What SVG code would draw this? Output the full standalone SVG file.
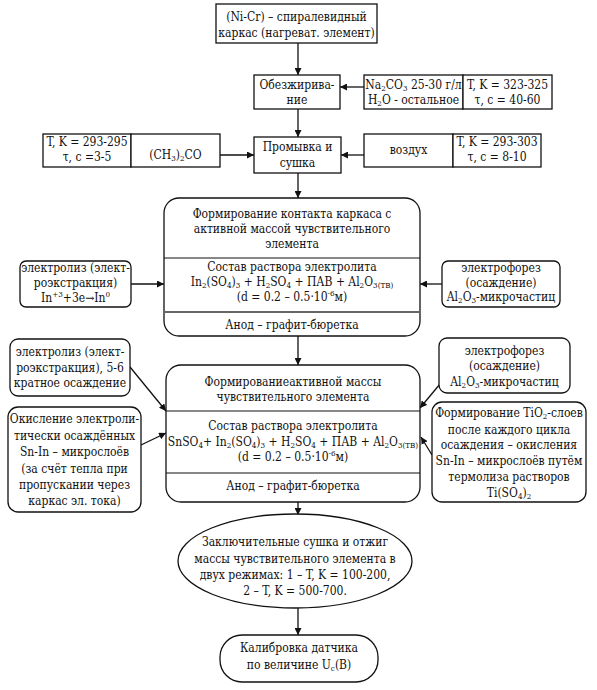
<svg xmlns="http://www.w3.org/2000/svg" width="597" height="690" viewBox="0 0 597 690">
<defs>
<style>
text{font-family:'DejaVu Serif Condensed','DejaVu Serif',serif;font-stretch:condensed}
.t{font-size:12px;text-anchor:middle;fill:#111}
.b{fill:#fff;stroke:#111;stroke-width:1.3}
.d{stroke:#111;stroke-width:1.2}
.c{stroke:#111;stroke-width:1.3;fill:none;marker-end:url(#a)}
.s{font-size:8px}
</style>
<marker id="a" viewBox="0 0 10 10" refX="10" refY="5" markerWidth="7" markerHeight="7" orient="auto" markerUnits="userSpaceOnUse">
<path d="M0,0 L10,5 L0,10 z" fill="#111"/>
</marker>
</defs>
<rect width="597" height="690" fill="#fff"/>

<g id="connectors">
<line class="c" x1="298" y1="43" x2="298" y2="75"/>
<line class="c" x1="364" y1="87" x2="340" y2="87"/>
<line class="c" x1="298" y1="109" x2="298" y2="137"/>
<line class="c" x1="220" y1="155" x2="254" y2="155"/>
<line class="c" x1="364" y1="155" x2="341" y2="155"/>
<line class="c" x1="298" y1="173" x2="298" y2="198"/>
<line class="c" x1="131" y1="284" x2="164" y2="284"/>
<line class="c" x1="442" y1="284" x2="420" y2="284"/>
<line class="c" x1="298" y1="336" x2="298" y2="365"/>
<line class="c" x1="130" y1="367" x2="166" y2="411"/>
<line class="c" x1="141" y1="445" x2="166" y2="433"/>
<line class="c" x1="440" y1="384" x2="420" y2="408"/>
<line class="c" x1="432" y1="455" x2="421" y2="437"/>
<line class="c" x1="298" y1="502" x2="298" y2="515"/>
<line class="c" x1="298" y1="608" x2="298" y2="635"/>
</g>

<g id="frame">
<rect class="b" x="216" y="4" width="161" height="39"/>
<text class="t" x="296.5" y="21">(Ni-Cr) – спиралевидный</text>
<text class="t" x="296.5" y="37">каркас (нагреват. элемент)</text>
</g>

<g id="degrease">
<rect class="b" x="254" y="75" width="86" height="34"/>
<text class="t" x="297" y="89">Обезжирива-</text>
<text class="t" x="297" y="104">ние</text>
</g>

<g id="degrease-solution">
<rect class="b" x="364" y="75" width="99" height="34"/>
<text class="t" x="413.5" y="89">Na<tspan class="s" baseline-shift="-2">2</tspan>CO<tspan class="s" baseline-shift="-2">3</tspan> 25-30 г/л</text>
<text class="t" x="413.5" y="104">H<tspan class="s" baseline-shift="-2">2</tspan>O - остальное</text>
</g>

<g id="degrease-params">
<rect class="b" x="463" y="75" width="89" height="34"/>
<text class="t" x="507.5" y="89">T, K = 323-325</text>
<text class="t" x="507.5" y="104">τ, с = 40-60</text>
</g>

<g id="wash">
<rect class="b" x="254" y="137" width="87" height="36"/>
<text class="t" x="297.5" y="151">Промывка и</text>
<text class="t" x="297.5" y="167">сушка</text>
</g>

<g id="wash-params">
<rect class="b" x="43" y="134" width="88" height="33"/>
<text class="t" x="87" y="146">T, K = 293-295</text>
<text class="t" x="87" y="161">τ, с =3-5</text>
</g>

<g id="acetone">
<rect class="b" x="131" y="134" width="89" height="33"/>
<text class="t" x="175.5" y="159">(CH<tspan class="s" baseline-shift="-2">3</tspan>)<tspan class="s" baseline-shift="-2">2</tspan>CO</text>
</g>

<g id="air">
<rect class="b" x="364" y="134" width="89" height="33"/>
<text class="t" x="408.5" y="154">воздух</text>
</g>

<g id="air-params">
<rect class="b" x="453" y="134" width="88" height="33"/>
<text class="t" x="497" y="146">T, K = 293-303</text>
<text class="t" x="497" y="161">τ, с = 8-10</text>
</g>

<g id="contact">
<rect class="b" x="164" y="198" width="256" height="138" rx="15"/>
<line class="d" x1="164" y1="258" x2="420" y2="258"/>
<line x1="164" y1="312" x2="420" y2="312" stroke="#666" stroke-width="2.2"/>
<text class="t" x="292" y="218">Формирование контакта каркаса с</text>
<text class="t" x="292" y="233">активной массой чувствительного</text>
<text class="t" x="292" y="248">элемента</text>
<text class="t" x="292" y="271">Состав раствора электролита</text>
<text class="t" x="292" y="286">In<tspan class="s" baseline-shift="-2">2</tspan>(SO<tspan class="s" baseline-shift="-2">4</tspan>)<tspan class="s" baseline-shift="-2">3</tspan> + H<tspan class="s" baseline-shift="-2">2</tspan>SO<tspan class="s" baseline-shift="-2">4</tspan> + ПАВ + Al<tspan class="s" baseline-shift="-2">2</tspan>O<tspan class="s" baseline-shift="-2">3(ТВ)</tspan></text>
<text class="t" x="292" y="301">(d = 0.2 – 0.5·10<tspan class="s" baseline-shift="5">-6</tspan>м)</text>
<text class="t" x="292" y="329">Анод – графит-бюретка</text>
</g>

<g id="electrolysis-1">
<rect class="b" x="20" y="261" width="111" height="46" rx="6"/>
<text class="t" x="75.5" y="272">электролиз (элект-</text>
<text class="t" x="75.5" y="287">роэкстракция)</text>
<text class="t" x="75.5" y="302">In<tspan class="s" baseline-shift="5">+3</tspan>+3e→In<tspan class="s" baseline-shift="5">0</tspan></text>
</g>

<g id="electrophoresis-1">
<rect class="b" x="442" y="261" width="118" height="46" rx="6"/>
<text class="t" x="501" y="272">электрофорез</text>
<text class="t" x="501" y="287">(осаждение)</text>
<text class="t" x="501" y="301">Al<tspan class="s" baseline-shift="-2">2</tspan>O<tspan class="s" baseline-shift="-2">3</tspan>-микрочастиц</text>
</g>

<g id="active-mass">
<rect class="b" x="166" y="365" width="254" height="137" rx="15"/>
<line class="d" x1="166" y1="411" x2="420" y2="411"/>
<line class="d" x1="166" y1="473" x2="420" y2="473"/>
<text class="t" x="293" y="386">Формированиеактивной массы</text>
<text class="t" x="293" y="401">чувствительного элемента</text>
<text class="t" x="293" y="430">Состав раствора электролита</text>
<text class="t" x="293" y="446">SnSO<tspan class="s" baseline-shift="-2">4</tspan>+ In<tspan class="s" baseline-shift="-2">2</tspan>(SO<tspan class="s" baseline-shift="-2">4</tspan>)<tspan class="s" baseline-shift="-2">3</tspan> + H<tspan class="s" baseline-shift="-2">2</tspan>SO<tspan class="s" baseline-shift="-2">4</tspan> + ПАВ + Al<tspan class="s" baseline-shift="-2">2</tspan>O<tspan class="s" baseline-shift="-2">3(ТВ)</tspan></text>
<text class="t" x="293" y="461">(d = 0.2 – 0.5·10<tspan class="s" baseline-shift="5">-6</tspan>м)</text>
<text class="t" x="293" y="490">Анод – графит-бюретка</text>
</g>

<g id="electrolysis-2">
<rect class="b" x="10" y="339" width="120" height="57" rx="8"/>
<text class="t" x="70" y="356">электролиз (элект-</text>
<text class="t" x="70" y="372">роэкстракция), 5-6</text>
<text class="t" x="70" y="387">кратное осаждение</text>
</g>

<g id="oxidation">
<rect class="b" x="8" y="407" width="133" height="105" rx="10"/>
<text class="t" x="74.5" y="423">Окисление электроли-</text>
<text class="t" x="74.5" y="440">тически осаждённых</text>
<text class="t" x="74.5" y="456">Sn-In – микрослоёв</text>
<text class="t" x="74.5" y="473">(за счёт тепла при</text>
<text class="t" x="74.5" y="489">пропускании через</text>
<text class="t" x="74.5" y="505">каркас эл. тока)</text>
</g>

<g id="electrophoresis-2">
<rect class="b" x="439" y="338" width="131" height="55" rx="8"/>
<text class="t" x="504.5" y="355">электрофорез</text>
<text class="t" x="504.5" y="370">(осаждение)</text>
<text class="t" x="504.5" y="386">Al<tspan class="s" baseline-shift="-2">2</tspan>O<tspan class="s" baseline-shift="-2">3</tspan>-микрочастиц</text>
</g>

<g id="tio2">
<rect class="b" x="432" y="402" width="154" height="100" rx="10"/>
<text class="t" x="509" y="417">Формирование TiO<tspan class="s" baseline-shift="-2">2</tspan>-слоев</text>
<text class="t" x="509" y="434">после каждого цикла</text>
<text class="t" x="509" y="449">осаждения – окисления</text>
<text class="t" x="509" y="465">Sn-In – микрослоёв путём</text>
<text class="t" x="509" y="481">термолиза растворов</text>
<text class="t" x="509" y="497">Ti(SO<tspan class="s" baseline-shift="-2">4</tspan>)<tspan class="s" baseline-shift="-2">2</tspan></text>
</g>

<g id="annealing">
<ellipse class="b" cx="295" cy="561" rx="117" ry="47"/>
<text class="t" x="295" y="546">Заключительные сушка и отжиг</text>
<text class="t" x="295" y="563">массы чувствительного элемента в</text>
<text class="t" x="295" y="579">двух режимах: 1 – T, K = 100-200,</text>
<text class="t" x="295" y="595">2 – T, K = 500-700.</text>
</g>

<g id="calibration">
<rect class="b" x="220" y="635" width="158" height="47" rx="22"/>
<text class="t" x="299" y="652">Калибровка датчика</text>
<text class="t" x="299" y="669">по величине U<tspan class="s" baseline-shift="-2">c</tspan>(B)</text>
</g>
</svg>
